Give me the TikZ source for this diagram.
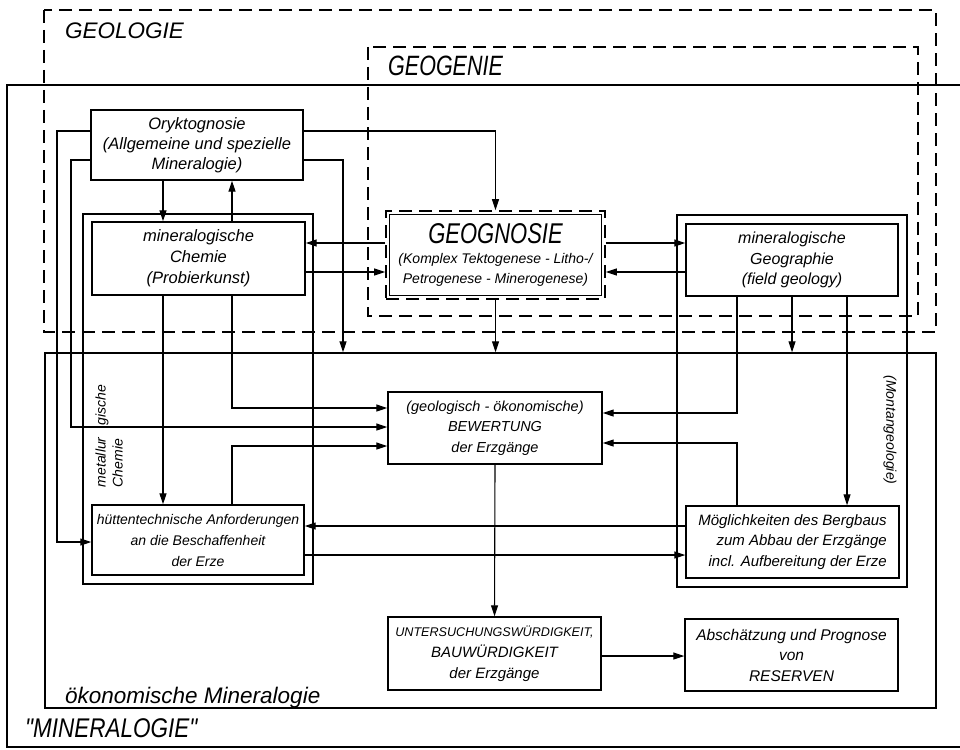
\documentclass[tikz,border=0pt]{standalone}
\usepackage{fontspec}
\usepackage{graphicx}
\setmainfont{Liberation Sans}
\newfontfamily\plainqfont{Liberation Sans}
\usetikzlibrary{arrows.meta,calc}
\newcommand{\bxf}[2]{\fontsize{#1}{#2}\selectfont\itshape}
\newcommand{\sq}{{\plainqfont\itshape "}}
\begin{document}
\begin{tikzpicture}[x=1pt,y=-1pt,
  box/.style={draw, line width=1.4pt, fill=white, inner sep=0pt, align=center, font={\bxf{16}{21}}},
  arr/.style={line width=1.1pt, -{Triangle[length=11pt,width=7pt]}},
  frameline/.style={line width=1.4pt},
  dashframe/.style={line width=1.6pt, dash pattern=on 13pt off 7pt},
  biglabel/.style={font={\bxf{22.5}{26}}, inner sep=0pt, anchor=base west}]
\useasboundingbox (0,0) rectangle (960,749);

% outer "MINERALOGIE" frame (cut at right edge)
\draw[frameline] (960,85) -- (7,85) -- (7,747) -- (960,747);
% GEOLOGIE and GEOGENIE dashed frames
\draw[dashframe] (44,10) rectangle (936,332);
\draw[dashframe] (368,47) rectangle (918,316);
% oekonomische Mineralogie
\node[draw, frameline, minimum width=891pt, minimum height=355pt, inner sep=0pt] (oek) at (490.5,530.5) {};
% side frames
\draw[frameline] (83,214) rectangle (313,584);
\draw[frameline] (677,215) rectangle (907,587);

% labels
\node[biglabel] (lgeol) at (65,39) {GEOLOGIE};
\node[biglabel, font={\bxf{21.5}{26}}] (lgeogen) at (388,76) {\scalebox{1}[1.3]{GEOGENIE}};
\node[biglabel] (loek) at (65,703) {ökonomische Mineralogie};
\node[biglabel] (lmin) at (25,737) {\scalebox{1}[1.2]{\sq MINERALOGIE\sq}};
\node[rotate=90, align=left, font={\bxf{14}{17}}, inner sep=0pt] (lmet) at (109,436) {metallur\hspace{12pt}gische\\Chemie};
\node[rotate=-90, font={\bxf{14}{16}}, inner sep=0pt] (lmon) at (890,430) {(Montangeologie)};

% boxes
\node[box, font={\bxf{16.5}{20}}, minimum width=212pt, minimum height=70pt] (oryk) at (197,145) {Oryktognosie\\(Allgemeine und spezielle\\Mineralogie)};
\node[box, font={\bxf{16.5}{21}}, minimum width=213pt, minimum height=73pt] (chem) at (198.5,258.5) {mineralogische\\Chemie\\(Probierkunst)};
\node[box, dashframe, minimum width=219pt, minimum height=88pt, font={\bxf{14}{20}}] (gnos) at (495.5,255) {\scalebox{1}[1.3]{\fontsize{22}{22}\selectfont GEOGNOSIE}\\(Komplex Tektogenese - Litho-/\\Petrogenese - Minerogenese)};
\draw[line width=1.2pt] ([shift={(4.5pt,-4.5pt)}]gnos.north west) rectangle ([shift={(-4.5pt,4.5pt)}]gnos.south east);
\node[box, font={\bxf{16}{20.5}}, minimum width=212pt, minimum height=72pt] (geog) at (792,260) {mineralogische\\Geographie\\(field geology)};
\node[box, font={\bxf{14.5}{20.5}}, minimum width=214pt, minimum height=72pt] (bew) at (495,428) {(geologisch - ökonomische)\\BEWERTUNG\\der Erzgänge};
\node[box, font={\bxf{14}{21}}, minimum width=212pt, minimum height=70pt] (hut) at (198,540) {hüttentechnische Anforderungen\\an die Beschaffenheit\\der Erze};
\node[box, align=right, font={\bxf{15}{20.5}}, minimum width=213pt, minimum height=72pt] (mog) at (792.5,542) {Möglichkeiten des Bergbaus\\zum Abbau der Erzgänge\\incl. Aufbereitung der Erze};
\node[box, font={\bxf{15}{21}}, minimum width=213pt, minimum height=73pt] (unt) at (494.5,653.5) {{\fontsize{12.6}{21}\selectfont UNTERSUCHUNGSWÜRDIGKEIT,}\\BAUWÜRDIGKEIT\\der Erzgänge};
\node[box, font={\bxf{15.5}{20.5}}, minimum width=213pt, minimum height=72pt] (abs) at (791.5,655) {Abschätzung und Prognose\\von\\RESERVEN};

% helper coordinates
\coordinate (xL1) at (57,0);  \coordinate (xL2) at (71,0);
\coordinate (xA) at (163,0);  \coordinate (xB) at (232,0);
\coordinate (xC) at (343,0);  \coordinate (xE) at (737,0);
\coordinate (xF) at (792,0);  \coordinate (xG) at (847,0);
\coordinate (y131) at (0,131); \coordinate (y160) at (0,160);
\coordinate (y243) at (0,243); \coordinate (y272) at (0,272);
\coordinate (y408) at (0,408); \coordinate (y427) at (0,427);
\coordinate (y446) at (0,446); \coordinate (y413) at (0,413);
\coordinate (y443) at (0,443); \coordinate (y526) at (0,526);
\coordinate (y542) at (0,542); \coordinate (y555) at (0,555);
\coordinate (y656) at (0,656);

% connectors
\draw[arr] (oryk.east |- y131) -| (gnos.north);
\draw[arr] (oryk.east |- y160) -| (xC |- oek.north);
\draw[arr] (oryk.west |- y131) -| (xL1 |- y542) -- (hut.west |- y542);
\draw[arr] (oryk.west |- y160) -| (xL2 |- y427) -- (bew.west |- y427);
\draw[arr] (xA |- oryk.south) -- (xA |- chem.north);
\draw[arr] (xA |- chem.south) -- (xA |- hut.north);
\draw[arr] (xB |- chem.north) -- (xB |- oryk.south);
\draw[arr] (xB |- chem.south) |- (bew.west |- y408);
\draw[arr] (xB |- hut.north) |- (bew.west |- y446);
\draw[arr] (gnos.west |- y243) -- (chem.east |- y243);
\draw[arr] (chem.east |- y272) -- (gnos.west |- y272);
\draw[arr] (gnos.east |- y243) -- (geog.west |- y243);
\draw[arr] (geog.west |- y272) -- (gnos.east |- y272);
\draw[arr] (gnos.south) -- (gnos.south |- oek.north);
\draw[arr] (xF |- geog.south) -- (xF |- oek.north);
\draw[arr] (xE |- geog.south) |- (bew.east |- y413);
\draw[arr] (xE |- mog.north) |- (bew.east |- y443);
\draw[arr] (xG |- geog.south) -- (xG |- mog.north);
\draw[arr] (mog.west |- y526) -- (hut.east |- y526);
\draw[arr] (hut.east |- y555) -- (mog.west |- y555);
\draw[arr] (bew.south) -- (unt.north);
\draw[arr] (unt.east |- y656) -- (abs.west |- y656);
\end{tikzpicture}
\end{document}
